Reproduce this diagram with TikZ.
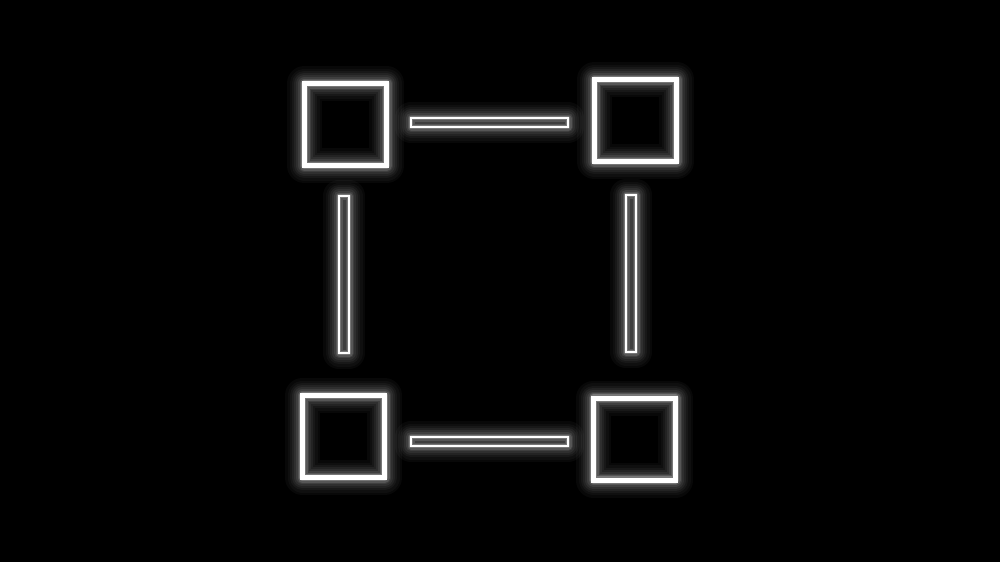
\documentclass[tikz,border=0pt]{standalone}
\usepackage{tikz}

\tikzset{
  % glowing white outline, #1 is the line width
  glow/.style={draw=white, line width=#1,
    preaction={draw=white, opacity=0.03, line join=round, line width=#1+3.0mm},
    preaction={draw=white, opacity=0.03, line join=round, line width=#1+2.5mm},
    preaction={draw=white, opacity=0.04, line join=round, line width=#1+2.0mm},
    preaction={draw=white, opacity=0.05, line join=round, line width=#1+1.6mm},
    preaction={draw=white, opacity=0.06, line join=round, line width=#1+1.2mm},
    preaction={draw=white, opacity=0.08, line join=round, line width=#1+0.8mm},
    preaction={draw=white, opacity=0.12, line join=round, line width=#1+0.5mm},
    preaction={draw=white, opacity=0.20, line join=round, line width=#1+0.25mm}},
  squarebox/.style={glow=0.5mm, rectangle, inner sep=0pt, minimum size=8.2mm},
  hbar/.style={glow=0.2mm, rectangle, inner sep=0pt, minimum width=15.7mm, minimum height=0.9mm},
  vbar/.style={glow=0.2mm, rectangle, inner sep=0pt, minimum width=1.0mm, minimum height=15.7mm}
}

\begin{document}
\begin{tikzpicture}[x=0.1mm, y=-0.1mm]  % one unit is one pixel of the reference

% Black background fixes the size
\fill[black] (0,0) rectangle (1000,562);
\useasboundingbox (0,0) rectangle (1000,562);

% Corner squares
\node[squarebox] (nw) at (345.5,124.5) {};
\node[squarebox] (ne) at (635.5,120.5) {};
\node[squarebox] (sw) at (343.5,436.5) {};
\node[squarebox] (se) at (634.5,439) {};

% Bars between the squares
\node[hbar] (top) at (489.5,122.5) {};
\node[hbar] (bottom) at (489.5,441.5) {};
\node[vbar] (left) at (344,274.5) {};
\node[vbar] (right) at (631,273.5) {};

\end{tikzpicture}
\end{document}
